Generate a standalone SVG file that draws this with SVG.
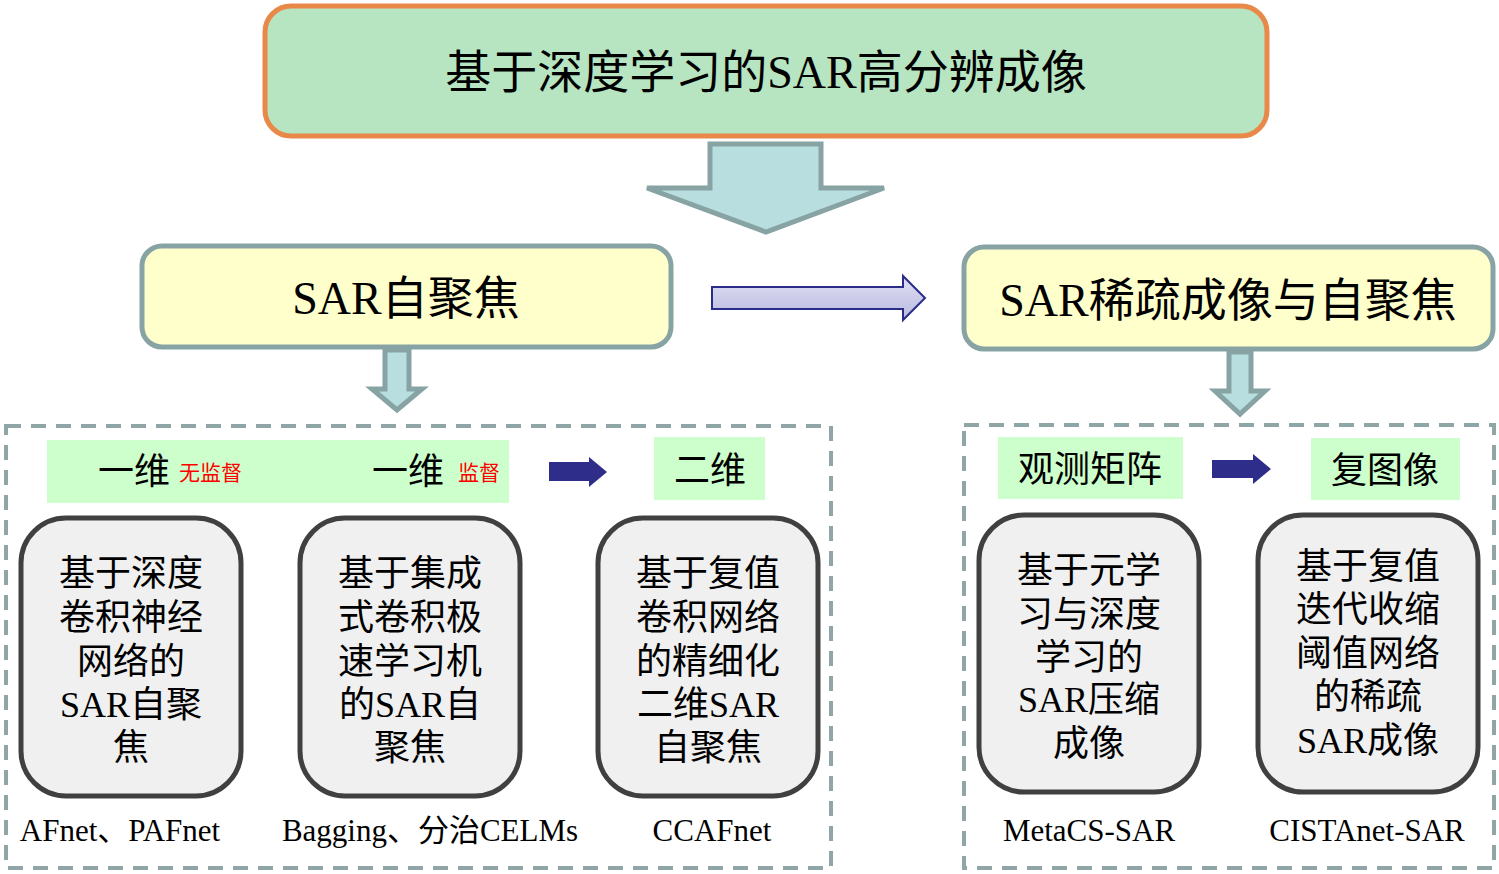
<svg xmlns="http://www.w3.org/2000/svg" width="1499" height="874" viewBox="0 0 1499 874">
<defs>
<linearGradient id="pg" x1="0" y1="0" x2="0" y2="1">
<stop offset="0" stop-color="#E0E0F4"/>
<stop offset="1" stop-color="#B9B9E0"/>
</linearGradient>
<style>
.t{font-family:"Liberation Serif","Noto Sans CJK SC",serif;fill:#000;text-anchor:middle}
.red{font-family:"Noto Sans CJK SC","Liberation Sans",sans-serif;fill:#FF0000;font-size:21px}
.node rect.n{fill:#F0F0F0;stroke:#404040;stroke-width:5}
.dash{fill:none;stroke:#8FA5A6;stroke-width:4;stroke-dasharray:15 10}
.lab{fill:#CCFFCC}
.hdr{fill:#FFFFCC;stroke:#87A3A4;stroke-width:5}
.fat{fill:#B9DEE0;stroke:#87A3A4;stroke-width:5;stroke-linejoin:miter}
.blue{fill:#2E2E8A}
.nt{font-size:36px}
.bt{font-size:31px}
</style>
</defs>

<g id="title">
<rect x="265" y="6" width="1002" height="130" rx="26" fill="#B7E4C1" stroke="#E8894A" stroke-width="5"/>
<text class="t" x="766" y="88" font-size="46">基于深度学习的SAR高分辨成像</text>
</g>

<g id="sar-autofocus">
<rect class="hdr" x="142" y="246" width="529" height="101" rx="20"/>
<text class="t" x="406" y="314" font-size="46">SAR自聚焦</text>
</g>

<g id="sar-sparse">
<rect class="hdr" x="964" y="247" width="529" height="102" rx="20"/>
<text class="t" x="1228" y="316" font-size="46">SAR稀疏成像与自聚焦</text>
</g>

<g id="connectors">
<polygon class="fat" points="710,144 821,144 821,188 884,188 766,232 647,188 710,188"/>
<polygon points="712,287 903,287 903,276 925,298 903,320 903,309 712,309" fill="url(#pg)" stroke="#2B2B8A" stroke-width="2"/>
<polygon class="fat" points="385,350 409,350 409,389 422,389 397,410 372,389 385,389"/>
<polygon class="fat" points="1229,352 1251,352 1251,391 1265,391 1240,414 1215,391 1229,391"/>
<polygon class="blue" points="549,462 589,462 589,457 607,472 589,487 589,481 549,481"/>
<polygon class="blue" points="1212,460 1253,460 1253,454 1271,469 1253,484 1253,478 1212,478"/>
</g>

<g id="left-group">
<rect class="dash" x="6" y="426" width="825" height="442"/>
<rect class="lab" x="47" y="440" width="462" height="63"/>
<text class="t" x="134" y="484" font-size="36">一维</text>
<text class="red" x="179" y="480">无监督</text>
<text class="t" x="408" y="484" font-size="36">一维</text>
<text class="red" x="458" y="480">监督</text>
<rect class="lab" x="654" y="437" width="111" height="63"/>
<text class="t" x="710" y="483" font-size="36">二维</text>
</g>

<g id="right-group">
<rect class="dash" x="964" y="425" width="530" height="443"/>
<rect class="lab" x="998" y="437" width="185" height="62"/>
<text class="t" x="1090" y="482" font-size="36">观测矩阵</text>
<rect class="lab" x="1311" y="438" width="149" height="62"/>
<text class="t" x="1385" y="483" font-size="36">复图像</text>
</g>

<g id="node1" class="node">
<rect class="n" x="21" y="518" width="220" height="278" rx="45"/>
<text class="t nt" x="131"><tspan x="131" y="586">基于深度</tspan><tspan x="131" y="630">卷积神经</tspan><tspan x="131" y="674">网络的</tspan><tspan x="131" y="717">SAR自聚</tspan><tspan x="131" y="760">焦</tspan></text>
<text class="t bt" x="120" y="841">AFnet、PAFnet</text>
</g>

<g id="node2" class="node">
<rect class="n" x="300" y="518" width="220" height="278" rx="45"/>
<text class="t nt" x="410"><tspan x="410" y="586">基于集成</tspan><tspan x="410" y="630">式卷积极</tspan><tspan x="410" y="674">速学习机</tspan><tspan x="410" y="717">的SAR自</tspan><tspan x="410" y="760">聚焦</tspan></text>
<text class="t bt" x="430" y="841">Bagging、分治CELMs</text>
</g>

<g id="node3" class="node">
<rect class="n" x="598" y="518" width="220" height="278" rx="45"/>
<text class="t nt" x="708"><tspan x="708" y="586">基于复值</tspan><tspan x="708" y="630">卷积网络</tspan><tspan x="708" y="674">的精细化</tspan><tspan x="708" y="717">二维SAR</tspan><tspan x="708" y="760">自聚焦</tspan></text>
<text class="t bt" x="712" y="841">CCAFnet</text>
</g>

<g id="node4" class="node">
<rect class="n" x="979" y="515" width="220" height="277" rx="45"/>
<text class="t nt" x="1089"><tspan x="1089" y="583">基于元学</tspan><tspan x="1089" y="627">习与深度</tspan><tspan x="1089" y="670">学习的</tspan><tspan x="1089" y="712">SAR压缩</tspan><tspan x="1089" y="756">成像</tspan></text>
<text class="t bt" x="1089" y="841">MetaCS-SAR</text>
</g>

<g id="node5" class="node">
<rect class="n" x="1258" y="515" width="220" height="277" rx="45"/>
<text class="t nt" x="1368"><tspan x="1368" y="579">基于复值</tspan><tspan x="1368" y="622">迭代收缩</tspan><tspan x="1368" y="666">阈值网络</tspan><tspan x="1368" y="709">的稀疏</tspan><tspan x="1368" y="753">SAR成像</tspan></text>
<text class="t bt" x="1367" y="841">CISTAnet-SAR</text>
</g>
</svg>
